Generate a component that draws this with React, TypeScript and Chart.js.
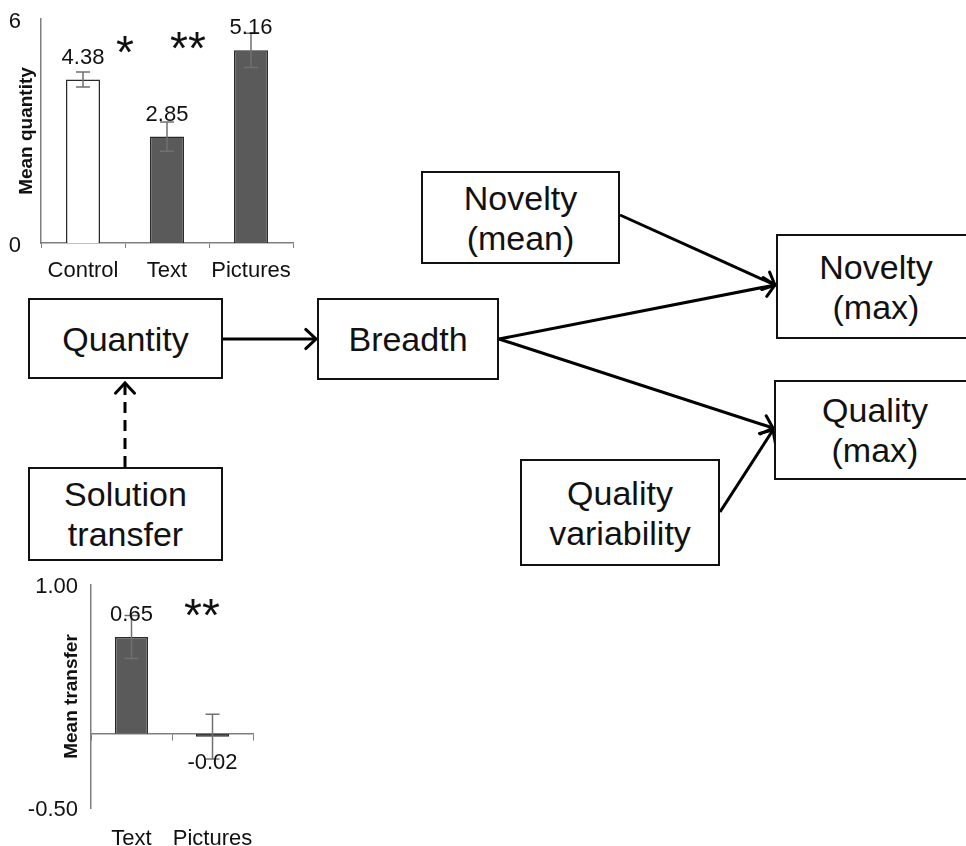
import React, { useEffect, useRef } from "react";
import { Chart, registerables } from "chart.js";
Chart.register(...registerables);

// ---------- data ----------
const quantityCategories = ["Control", "Text", "Pictures"];
const quantityMeans = [4.38, 2.85, 5.16];
const quantityErrors = [0.2, 0.39, 0.46];
const quantityFills = ["#ffffff", "#5a5a5a", "#5a5a5a"];
const quantityTickValues = [0, 6];
const quantitySigText = ["*", "**"];
const quantitySigX = [0.5, 1.25];
const quantitySigY = [5.4, 5.5];

const transferCategories = ["Text", "Pictures"];
const transferMeans = [0.65, -0.02];
const transferErrors = [0.145, 0.15];
const transferFills = ["#5a5a5a", "#3a3a3a"];
const transferTickValues = [-0.5, 1.0];
const transferSigText = ["**"];
const transferSigX = [0.87];
const transferSigY = [0.87];

const FONT = "'Liberation Sans', Arial, Helvetica, sans-serif";

// ---------- plugin: error bars, value labels, significance marks ----------
const annotatePlugin = {
  id: "annotate",
  afterDatasetsDraw(chart: any, _args: any, opts: any) {
    const { ctx } = chart;
    const meta = chart.getDatasetMeta(0);
    const ys = chart.scales.y;
    const xs = chart.scales.x;
    ctx.save();
    // error bars
    ctx.strokeStyle = "#707070";
    ctx.lineWidth = 1.5;
    opts.values.forEach((v: number, i: number) => {
      const bar = meta.data[i];
      const cx = bar.x;
      const hi = ys.getPixelForValue(v + opts.errors[i]);
      const lo = ys.getPixelForValue(v - opts.errors[i]);
      const cap = 7;
      ctx.beginPath();
      ctx.moveTo(cx, hi);
      ctx.lineTo(cx, lo);
      ctx.moveTo(cx - cap, hi);
      ctx.lineTo(cx + cap, hi);
      ctx.moveTo(cx - cap, lo);
      ctx.lineTo(cx + cap, lo);
      ctx.stroke();
    });
    // value labels
    ctx.fillStyle = "#111";
    ctx.font = `22px ${FONT}`;
    ctx.textAlign = "center";
    ctx.textBaseline = "middle";
    opts.values.forEach((v: number, i: number) => {
      const bar = meta.data[i];
      const yy = v >= 0 ? bar.y - 22 : ys.getPixelForValue(0) + 29;
      ctx.fillText(v.toFixed(2), bar.x, yy);
    });
    // significance asterisks
    const fs = 46;
    ctx.font = `${fs}px ${FONT}`;
    ctx.textBaseline = "alphabetic";
    opts.sigText.forEach((t: string, i: number) => {
      const px = xs.getPixelForValue(opts.sigX[i]);
      const py = ys.getPixelForValue(opts.sigY[i]) + 0.575 * fs;
      ctx.fillText(t, px, py);
    });
    ctx.restore();
  },
};

function QuantityChart() {
  const ref = useRef<HTMLCanvasElement | null>(null);
  useEffect(() => {
    const chart = new Chart(ref.current as HTMLCanvasElement, {
      type: "bar",
      data: {
        labels: quantityCategories,
        datasets: [
          {
            data: quantityMeans,
            backgroundColor: quantityFills,
            borderColor: "#2a2a2a",
            borderWidth: 1.5,
            categoryPercentage: 1,
            barPercentage: 0.405,
          },
        ],
      },
      plugins: [annotatePlugin],
      options: {
        responsive: false,
        animation: false,
        layout: { padding: { top: 19, right: 17, left: 0, bottom: 0 } },
        plugins: {
          legend: { display: false },
          tooltip: { enabled: false },
          annotate: {
            values: quantityMeans,
            errors: quantityErrors,
            sigText: quantitySigText,
            sigX: quantitySigX,
            sigY: quantitySigY,
          },
        } as any,
        scales: {
          x: {
            offset: true,
            grid: {
              offset: true,
              drawOnChartArea: false,
              drawTicks: true,
              tickLength: 5,
              color: "#7f7f7f",
            },
            border: { display: true, color: "#7f7f7f", width: 1.5 },
            ticks: {
              color: "#111",
              font: { size: 22, family: FONT },
              padding: 10,
              maxRotation: 0,
              minRotation: 0,
              autoSkip: false,
            },
            afterFit: (s: any) => {
              s.height = 47;
              s.paddingLeft = 0;
              s.paddingRight = 0;
            },
          },
          y: {
            min: 0,
            max: 6,
            afterBuildTicks: (s: any) => {
              s.ticks = quantityTickValues.map((v) => ({ value: v }));
            },
            grid: { display: false },
            border: { display: true, color: "#7f7f7f", width: 1.5 },
            ticks: {
              color: "#111",
              font: { size: 22, family: FONT, lineHeight: 1 },
              padding: 12,
              labelOffset: 3,
            },
            title: {
              display: true,
              text: "Mean quantity",
              color: "#111",
              font: { size: 19, weight: "bold", family: FONT },
              padding: { top: 15.6, bottom: 0 },
            },
            afterFit: (s: any) => {
              s.width = 41;
              s.paddingTop = 0;
              s.paddingBottom = 0;
            },
          },
        },
      },
    } as any);
    return () => chart.destroy();
  }, []);
  return (
    <canvas
      ref={ref}
      width={310}
      height={290}
      style={{ position: "absolute", left: 0, top: 0, width: 310, height: 290 }}
    />
  );
}

function TransferChart() {
  const ref = useRef<HTMLCanvasElement | null>(null);
  useEffect(() => {
    const chart = new Chart(ref.current as HTMLCanvasElement, {
      type: "bar",
      data: {
        labels: transferCategories,
        datasets: [
          {
            data: transferMeans,
            backgroundColor: transferFills,
            borderColor: "#2a2a2a",
            borderWidth: 1.5,
            categoryPercentage: 1,
            barPercentage: 0.41,
          },
        ],
      },
      plugins: [annotatePlugin],
      options: {
        responsive: false,
        animation: false,
        layout: { padding: { top: 15, right: 27, left: 0, bottom: 0 } },
        plugins: {
          legend: { display: false },
          tooltip: { enabled: false },
          annotate: {
            values: transferMeans,
            errors: transferErrors,
            sigText: transferSigText,
            sigX: transferSigX,
            sigY: transferSigY,
          },
        } as any,
        scales: {
          x: {
            position: { y: 0 },
            offset: true,
            grid: {
              offset: true,
              drawOnChartArea: false,
              drawTicks: true,
              tickLength: 6,
              color: "#7f7f7f",
            },
            border: { display: true, color: "#7f7f7f", width: 1.5 },
            ticks: { display: false },
          },
          x2: {
            type: "category",
            position: "bottom",
            offset: true,
            grid: { display: false },
            border: { display: false },
            ticks: {
              color: "#111",
              font: { size: 22, family: FONT },
              padding: 10,
              maxRotation: 0,
              minRotation: 0,
              autoSkip: false,
            },
            afterFit: (s: any) => {
              s.height = 38;
              s.paddingLeft = 0;
              s.paddingRight = 0;
            },
          },
          y: {
            min: -0.5,
            max: 1.0,
            afterBuildTicks: (s: any) => {
              s.ticks = transferTickValues.map((v) => ({ value: v }));
            },
            grid: { display: false },
            border: { display: true, color: "#7f7f7f", width: 1.5 },
            ticks: {
              color: "#111",
              font: { size: 22, family: FONT, lineHeight: 1 },
              padding: 5,
              labelOffset: 2,
              callback: (v: any) => Number(v).toFixed(2),
            },
            title: {
              display: true,
              text: "Mean transfer",
              color: "#111",
              font: { size: 19, weight: "bold", family: FONT },
              padding: { top: 60.6, bottom: 0 },
            },
            afterFit: (s: any) => {
              s.width = 91;
              s.paddingTop = 0;
              s.paddingBottom = 0;
            },
          },
        },
      },
    } as any);
    return () => chart.destroy();
  }, []);
  return (
    <canvas
      ref={ref}
      width={280}
      height={276}
      style={{ position: "absolute", left: 0, top: 570, width: 280, height: 276 }}
    />
  );
}

// ---------- diagram ----------
const boxLabels = [
  ["Quantity"],
  ["Breadth"],
  ["Solution", "transfer"],
  ["Novelty", "(mean)"],
  ["Novelty", "(max)"],
  ["Quality", "(max)"],
  ["Quality", "variability"],
];
const boxRects = [
  [28, 298, 195, 81],
  [317, 298, 182, 82],
  [28, 467, 195, 94],
  [421, 171, 199, 93],
  [776, 234, 200, 105],
  [774, 380, 202, 100],
  [520, 459, 200, 107],
];
const arrowLines: [number, number, number, number, boolean][] = [
  [223, 339, 316, 339, false],
  [125, 467, 125, 383, true],
  [620, 215, 775, 285, false],
  [499, 339, 775, 285, false],
  [499, 339, 773, 428, false],
  [720, 512, 773, 430, false],
];

function Arrow({ a }: { a: [number, number, number, number, boolean] }) {
  const [x1, y1, x2, y2, dashed] = a;
  const ang = Math.atan2(y2 - y1, x2 - x1);
  const L = 14;
  const spread = 0.75;
  const p1 = [x2 - L * Math.cos(ang - spread), y2 - L * Math.sin(ang - spread)];
  const p2 = [x2 - L * Math.cos(ang + spread), y2 - L * Math.sin(ang + spread)];
  return (
    <g>
      <line
        x1={x1}
        y1={y1}
        x2={x2}
        y2={y2}
        stroke="#000"
        strokeWidth={3}
        strokeDasharray={dashed ? "11 7" : undefined}
      />
      <polyline
        points={`${p1[0]},${p1[1]} ${x2},${y2} ${p2[0]},${p2[1]}`}
        fill="none"
        stroke="#000"
        strokeWidth={3}
        strokeLinecap="round"
        strokeLinejoin="miter"
      />
    </g>
  );
}

function Diagram() {
  return (
    <>
      <svg
        width={966}
        height={846}
        style={{ position: "absolute", left: 0, top: 0, pointerEvents: "none" }}
      >
        {arrowLines.map((a, i) => (
          <Arrow key={i} a={a} />
        ))}
      </svg>
      {boxRects.map((r, i) => (
        <div
          key={i}
          style={{
            position: "absolute",
            left: r[0],
            top: r[1],
            width: r[2],
            height: r[3],
            boxSizing: "border-box",
            border: "2px solid #111",
            background: "#fff",
            display: "flex",
            flexDirection: "column",
            alignItems: "center",
            justifyContent: "center",
            fontFamily: FONT,
            fontSize: 34,
            lineHeight: "40px",
            color: "#111",
          }}
        >
          {boxLabels[i].map((t, j) => (
            <div key={j}>{t}</div>
          ))}
        </div>
      ))}
    </>
  );
}

export default function App() {
  return (
    <div
      style={{
        position: "absolute",
        left: 0,
        top: 0,
        width: 966,
        height: 846,
        overflow: "hidden",
        background: "#fff",
      }}
    >
      <Diagram />
      <QuantityChart />
      <TransferChart />
    </div>
  );
}
